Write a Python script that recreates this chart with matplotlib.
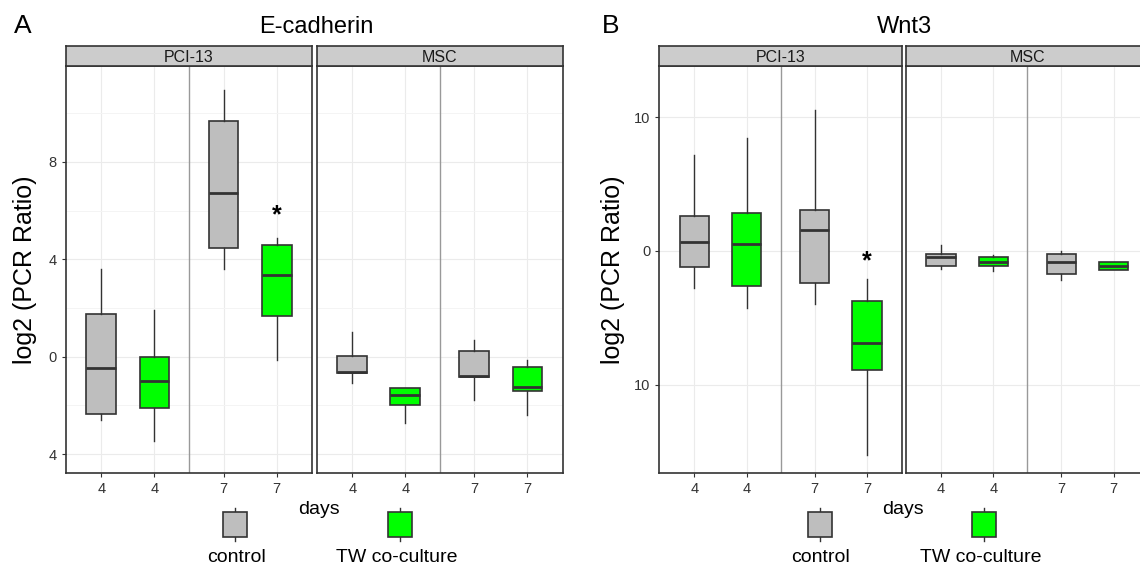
import matplotlib
matplotlib.use("Agg")
import matplotlib.pyplot as plt
from matplotlib.patches import Rectangle

plt.rcParams['font.family'] = ['Liberation Sans', 'DejaVu Sans']

W, H = 1140, 579
DPI = 100

cells = ["PCI-13", "MSC"]
day_labels = ["4", "4", "7", "7"]
box_pos = [1, 2, 3.3, 4.3]
box_fill = ["#BEBEBE", "#00FF00", "#BEBEBE", "#00FF00"]
legend_labels = ["control", "TW co-culture"]
legend_fill = ["#BEBEBE", "#00FF00"]

# one row per box: lower whisker, q1, median, q3, upper whisker
ecad_pci13 = [[-2.61, -2.36, -0.45, 1.75, 3.59],
              [-3.44, -2.10, -1.01, 0.00, 1.90],
              [3.59, 4.45, 6.72, 9.67, 10.93],
              [-0.14, 1.68, 3.37, 4.58, 4.86]]
ecad_msc = [[-1.08, -0.68, -0.61, 0.05, 1.02],
            [-2.73, -2.00, -1.59, -1.30, -1.30],
            [-1.79, -0.83, -0.78, 0.23, 0.68],
            [-2.41, -1.42, -1.26, -0.41, -0.12]]
wnt3_pci13 = [[-2.74, -1.20, 0.67, 2.64, 7.15],
              [-4.24, -2.64, 0.50, 2.86, 8.42],
              [-3.94, -2.39, 1.59, 3.04, 10.49],
              [-15.25, -8.92, -6.90, -3.76, -2.09]]
wnt3_msc = [[-1.35, -1.12, -0.45, -0.22, 0.45],
            [-1.52, -1.12, -0.80, -0.47, -0.30],
            [-2.19, -1.74, -0.84, -0.25, -0.02],
            [-1.40, -1.40, -1.12, -0.84, -0.84]]

ecad_yticks = [-4, 0, 4, 8]
ecad_yticklabels = ["4", "0", "4", "8"]
ecad_minor = [-2, 2, 6, 10]
wnt3_yticks = [-10, 0, 10]
wnt3_yticklabels = ["10", "0", "10"]

ecad_star = 5.9
wnt3_star = -0.6

EDGE = "#333333"


def px_rect(x0, x1, y0, y1):
    return [x0 / W, 1 - y1 / H, (x1 - x0) / W, (y1 - y0) / H]


def draw_panel(fig, x0, x1, data, cell, ylim, yticks, yticklabels,
               show_y, minor=None, star=None):
    ax = fig.add_axes(px_rect(x0, x1, 66, 473))
    stats = [dict(whislo=d[0], q1=d[1], med=d[2], q3=d[3], whishi=d[4])
             for d in data]
    bp = ax.bxp(stats, positions=box_pos, widths=0.56, patch_artist=True,
                showcaps=False, showfliers=False,
                boxprops=dict(edgecolor=EDGE, linewidth=1.2),
                medianprops=dict(color=EDGE, linewidth=2.0),
                whiskerprops=dict(color=EDGE, linewidth=1.0),
                zorder=3)
    for patch, c in zip(bp['boxes'], box_fill):
        patch.set_facecolor(c)
    ax.axvline((box_pos[1] + box_pos[2]) / 2, color="#999999", lw=1.0, zorder=2)
    ax.set_xlim(0.33, 4.97)
    ax.set_ylim(*ylim)
    ax.set_xticks(box_pos, day_labels)
    ax.set_yticks(yticks, yticklabels if show_y else [])
    if minor:
        ax.set_yticks(minor, minor=True)
        ax.grid(which='minor', axis='y', color='#F4F4F4', lw=0.7)
    ax.grid(which='major', color='#EBEBEB', lw=0.8)
    ax.set_axisbelow(True)
    ax.tick_params(which='major', direction='out', length=3, width=0.8,
                   color=EDGE, labelsize=10.5, labelcolor=EDGE, pad=3.5)
    ax.tick_params(which='minor', length=0)
    if not show_y:
        ax.tick_params(axis='y', length=0)
    for s in ax.spines.values():
        s.set_color(EDGE)
        s.set_linewidth(1.2)
    if star is not None:
        ax.text(box_pos[3], star, "*", ha='center', va='center_baseline',
                fontsize=18, fontweight='bold', color='black')

    sax = fig.add_axes(px_rect(x0, x1, 46, 66))
    sax.set_facecolor("#CCCCCC")
    sax.set_xticks([])
    sax.set_yticks([])
    for s in sax.spines.values():
        s.set_color(EDGE)
        s.set_linewidth(1.2)
    sax.text(0.5, 0.45, cell, ha='center', va='center', fontsize=11.5,
             color='#1A1A1A', transform=sax.transAxes)
    return ax


fig = plt.figure(figsize=(W / DPI, H / DPI), dpi=DPI)

# panel A: E-cadherin
draw_panel(fig, 65.7, 312.3, ecad_pci13, cells[0], (-4.77, 11.93),
           ecad_yticks, ecad_yticklabels, True, ecad_minor, ecad_star)
draw_panel(fig, 316.7, 563.0, ecad_msc, cells[1], (-4.77, 11.93),
           ecad_yticks, ecad_yticklabels, False, ecad_minor)

# panel B: Wnt3
draw_panel(fig, 659.3, 902.0, wnt3_pci13, cells[0], (-16.58, 13.81),
           wnt3_yticks, wnt3_yticklabels, True, None, wnt3_star)
draw_panel(fig, 906.0, 1148.7, wnt3_msc, cells[1], (-16.58, 13.81),
           wnt3_yticks, wnt3_yticklabels, False, None)

# overlay in pixel coordinates for titles, labels and legends
ov = fig.add_axes([0, 0, 1, 1], facecolor='none')
ov.set_xlim(0, W)
ov.set_ylim(H, 0)
ov.axis('off')

for letter, lx, title, tx, ylx, daysx, keyx, labx in [
        ("A", 23, "E-cadherin", 316, 25, 319, (235, 400), (237, 397)),
        ("B", 611, "Wnt3", 904, 613, 903, (820, 984), (821, 981))]:
    ov.text(lx, 26, letter, fontsize=19, ha='center', va='center')
    ov.text(tx, 27, title, fontsize=17, ha='center', va='center')
    ov.text(ylx, 270, "log2 (PCR Ratio)", fontsize=18, rotation=90,
            ha='center', va='center')
    ov.text(daysx, 510, "days", fontsize=14, ha='center', va='center')
    for kx, c in zip(keyx, legend_fill):
        ov.plot([kx, kx], [508, 541], color=EDGE, lw=1.0)
        ov.add_patch(Rectangle((kx - 12, 512), 24, 25, facecolor=c,
                               edgecolor=EDGE, lw=1.2, zorder=3))
    for tx_, lab in zip(labx, legend_labels):
        ov.text(tx_, 558, lab, fontsize=14, ha='center', va='center')

fig.savefig("out.png", dpi=DPI)
